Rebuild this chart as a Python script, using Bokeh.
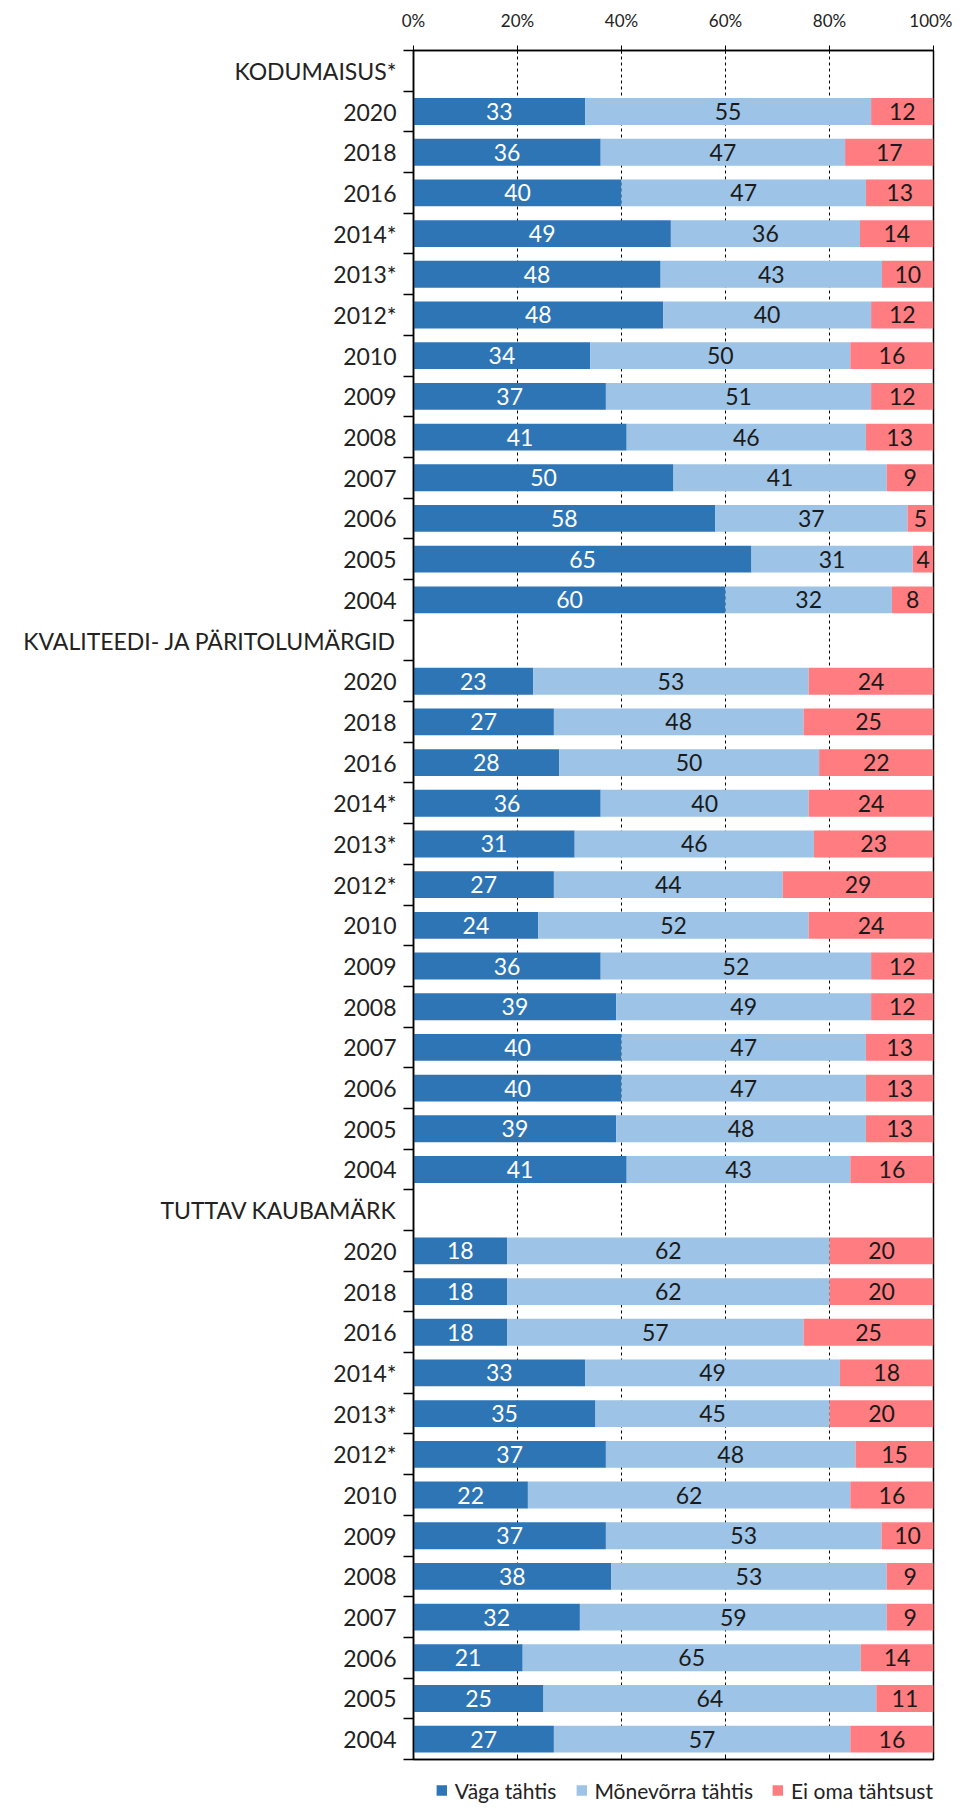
from bokeh.plotting import figure
from bokeh.models import (ColumnDataSource, Range1d, LinearAxis, FixedTicker,
                          Legend, LegendItem)
from bokeh.layouts import column
from bokeh.core.properties import value
from bokeh.embed import file_html
from bokeh.resources import INLINE

groups = ["KODUMAISUS*", "KVALITEEDI- JA PÄRITOLUMÄRGID", "TUTTAV KAUBAMÄRK"]
years = ["2020", "2018", "2016", "2014*", "2013*", "2012*", "2010", "2009",
         "2008", "2007", "2006", "2005", "2004"]

# KODUMAISUS*
kodu_vaga = [33, 36, 40, 49, 48, 48, 34, 37, 41, 50, 58, 65, 60]
kodu_mone = [55, 47, 47, 36, 43, 40, 50, 51, 46, 41, 37, 31, 32]
kodu_ei = [12, 17, 13, 14, 10, 12, 16, 12, 13, 9, 5, 4, 8]
# KVALITEEDI- JA PÄRITOLUMÄRGID
kval_vaga = [23, 27, 28, 36, 31, 27, 24, 36, 39, 40, 40, 39, 41]
kval_mone = [53, 48, 50, 40, 46, 44, 52, 52, 49, 47, 47, 48, 43]
kval_ei = [24, 25, 22, 24, 23, 29, 24, 12, 12, 13, 13, 13, 16]
# TUTTAV KAUBAMÄRK
tutt_vaga = [18, 18, 18, 33, 35, 37, 22, 37, 38, 32, 21, 25, 27]
tutt_mone = [62, 62, 57, 49, 45, 48, 62, 53, 53, 59, 65, 64, 57]
tutt_ei = [20, 20, 25, 18, 20, 15, 16, 10, 9, 9, 14, 11, 16]

series_names = ["Väga tähtis", "Mõnevõrra tähtis", "Ei oma tähtsust"]
colors = ["#2E75B6", "#9DC3E6", "#FF7C80"]
label_colors = ["white", "#1a1a1a", "#1a1a1a"]

group_data = [(kodu_vaga, kodu_mone, kodu_ei),
              (kval_vaga, kval_mone, kval_ei),
              (tutt_vaga, tutt_mone, tutt_ei)]

FONT = "Lato"
TXT = "#222222"

labels = []
segs = [[], [], []]
row = 0
for g, (a, b, c) in zip(groups, group_data):
    labels.append(g)
    row += 1
    for i, yr in enumerate(years):
        labels.append(yr)
        vals = [a[i], b[i], c[i]]
        tot = float(sum(vals))
        left = 0.0
        for k in range(3):
            w = vals[k] * 100.0 / tot
            segs[k].append((row + 0.5, left, left + w, vals[k]))
            left += w
        row += 1
nrows = row

p = figure(frame_width=520, frame_height=1709, output_backend="svg",
           toolbar_location=None, x_range=Range1d(0, 100),
           y_range=Range1d(nrows, 0), min_border_left=413,
           min_border_right=19, min_border_top=50, min_border_bottom=2,
           x_axis_location=None, y_axis_location=None)
p.outline_line_color = "black"
p.outline_line_width = 1.5
p.outline_line_alpha = 1
p.background_fill_color = "white"
p.border_fill_color = "white"

p.ygrid.visible = False
p.xgrid.ticker = FixedTicker(ticks=[20, 40, 60, 80])
p.xgrid.grid_line_color = "black"
p.xgrid.grid_line_dash = "3 3"
p.xgrid.grid_line_width = 1

for k in range(3):
    d = segs[k]
    src = ColumnDataSource(dict(
        y=[s[0] for s in d], left=[s[1] for s in d], right=[s[2] for s in d],
        mid=[(s[1] + s[2]) / 2 for s in d], txt=[str(s[3]) for s in d]))
    p.hbar(y="y", left="left", right="right", height=0.66, source=src,
           fill_color=colors[k], line_color=None)
    p.text(x="mid", y="y", text="txt", source=src, text_align="center",
           text_baseline="middle", text_color=label_colors[k],
           text_font=value(FONT), text_font_size="23px")

# left category axis: labels at row centres, tick marks at row boundaries
centers = [i + 0.5 for i in range(nrows)]
yax = LinearAxis(ticker=FixedTicker(ticks=centers,
                                    minor_ticks=list(range(0, nrows + 1))),
                 major_label_overrides={c: l for c, l in zip(centers, labels)})
yax.major_tick_out = 0
yax.major_tick_in = 0
yax.minor_tick_out = 10
yax.minor_tick_in = 0
yax.minor_tick_line_color = "black"
yax.minor_tick_line_width = 1.5
yax.axis_line_color = "black"
yax.axis_line_width = 1.5
yax.major_label_standoff = 7
yax.major_label_text_font = FONT
yax.major_label_text_font_size = "23px"
yax.major_label_text_color = TXT
p.add_layout(yax, "left")

pct = {v: f"{v}%" for v in [0, 20, 40, 60, 80, 100]}
xtop = LinearAxis(ticker=FixedTicker(ticks=[0, 20, 40, 60, 80, 100]),
                  major_label_overrides=pct)
xtop.major_tick_out = 5
xtop.major_tick_in = 3
xtop.minor_tick_out = 0
xtop.minor_tick_in = 0
xtop.axis_line_width = 1.5
xtop.major_label_standoff = 15
xtop.major_label_text_font = FONT
xtop.major_label_text_font_size = "17px"
xtop.major_label_text_color = TXT
p.add_layout(xtop, "above")

xbot = LinearAxis(ticker=FixedTicker(ticks=[0, 20, 40, 60, 80, 100]))
xbot.major_tick_out = 0
xbot.major_tick_in = 4
xbot.minor_tick_out = 0
xbot.minor_tick_in = 0
xbot.axis_line_width = 1.5
xbot.major_label_text_font_size = "0px"
xbot.major_label_text_color = None
xbot.major_label_standoff = 0
p.add_layout(xbot, "below")

# legend in its own strip below the chart (frame aligned with the chart)
lg = figure(frame_width=520, height=42, output_backend="svg",
            toolbar_location=None, x_range=Range1d(0, 1),
            y_range=Range1d(0, 1), min_border_left=413, min_border_right=19,
            min_border_top=16, min_border_bottom=0,
            x_axis_location=None, y_axis_location=None)
lg.outline_line_color = None
lg.grid.visible = False
items = []
for k in range(3):
    # legend-key renderer: one bar placed outside the visible range
    r = lg.hbar(y=[-1], left=[-2], right=[-1.5], height=0.5,
                fill_color=colors[k], line_color=None)
    items.append(LegendItem(label=series_names[k], renderers=[r]))
legend = Legend(items=items, orientation="horizontal", location="right",
                label_text_font=FONT, label_text_font_size="21px",
                label_text_color=TXT, glyph_width=13, glyph_height=13,
                spacing=18, label_standoff=7, border_line_color=None,
                padding=0, margin=0, background_fill_alpha=0)
lg.add_layout(legend)

open("out.html", "w").write(file_html(column(p, lg, spacing=0), INLINE))
